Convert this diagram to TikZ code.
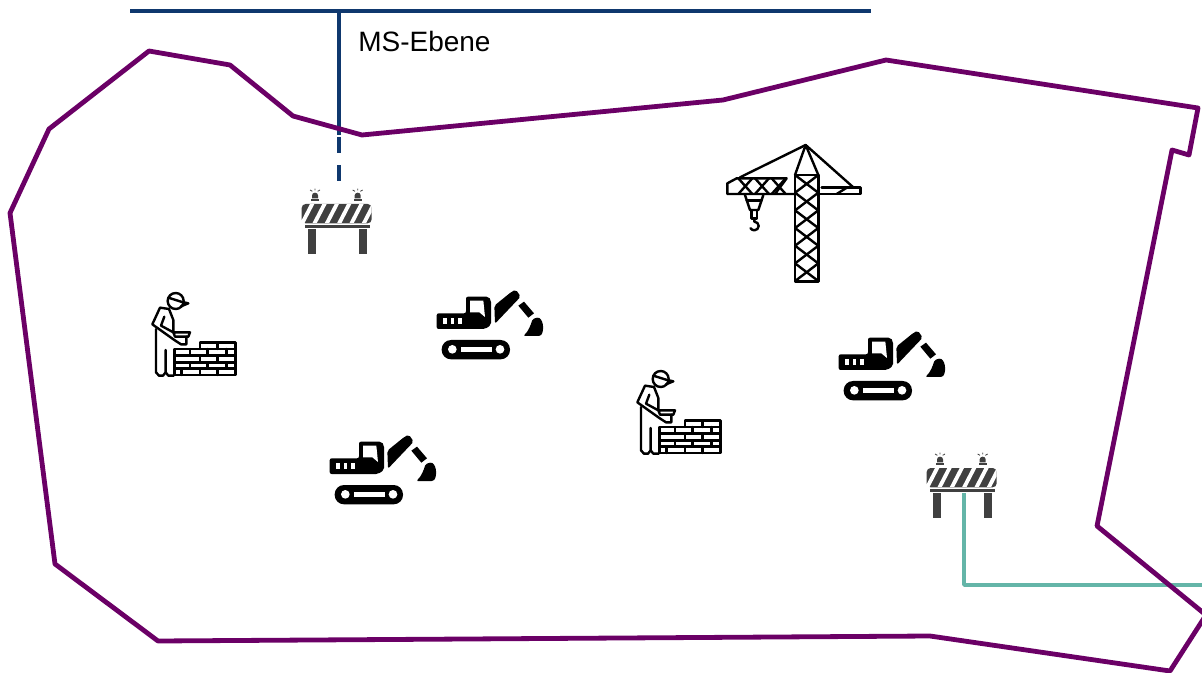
\documentclass[tikz,border=0pt]{standalone}
\usepackage{fontspec}
\setmainfont{Liberation Sans}
\definecolor{gebietlila}{RGB}{107,0,102}
\definecolor{msblau}{RGB}{15,56,110}
\definecolor{nsgruen}{RGB}{100,181,168}
\definecolor{baustellegrau}{RGB}{64,64,64}
\usetikzlibrary{positioning,calc}
\tikzset{
    gebiet/.style={draw=gebietlila, line width=3.6pt, line join=round},
    msleitung/.style={draw=msblau, line width=2.6pt},
    nsleitung/.style={draw=nsgruen, line width=2.6pt, line join=round},
    ikonlinie/.style={draw=black, line width=1.8pt, line join=round, line cap=round},
    pics/absperrung/.style={code={
        \fill[baustellegrau, rounded corners=3pt] (65,222) rectangle (275,280);
        \begin{scope}
            \clip (65,224) rectangle (275,278);
            \foreach \x in {60,97,...,280}
                \fill[white] (\x,280) -- (\x+13,280) -- (\x+43,222) -- (\x+30,222) -- cycle;
        \end{scope}
        \fill[baustellegrau] (75,286) rectangle (270,293);
        \fill[baustellegrau] (85,298) rectangle (107,372);
        \fill[baustellegrau] (238,298) rectangle (260,372);
        \foreach \x in {105,233} {
            \fill[baustellegrau] (\x-12,208) rectangle (\x+12,214);
            \fill[baustellegrau] (\x-9,205) -- (\x-9,196) arc (180:360:9 and 8) -- (\x+9,205) -- cycle;
            \draw[baustellegrau, line width=.6pt] (\x,176) -- (\x,181) (\x-15,180) -- (\x-8,184) (\x+15,180) -- (\x+8,184);
        }
    }},
    pics/bagger/.style={code={
        \fill[black, rounded corners=1.5pt] (20,85) -- (108,85) -- (108,35) -- (175,35) -- (183,45) -- (183,120) -- (165,132) -- (20,132) -- cycle;
        \fill[white] (120,47) -- (160,47) -- (165,96) -- (148,82) -- (120,82) -- cycle;
        \foreach \x in {40,62,84}
            \fill[white] (\x,100) rectangle (\x+11,118);
        \fill[black, rounded corners=1.5pt] (193,62) -- (245,20) -- (258,14) -- (272,35) -- (195,116) -- cycle;
        \fill[black] (265,62) -- (282,50) -- (312,85) -- (295,98) -- cycle;
        \fill[black, rounded corners=1pt] (280,153) .. controls (296,138) and (302,120) .. (308,102) -- (325,97) .. controls (342,108) and (342,142) .. (330,153) -- cycle;
        \fill[black, rounded corners=7pt] (35,165) rectangle (240,223);
        \fill[white] (92,186) rectangle (187,200);
        \fill[white] (67,193) circle (13);
        \fill[white] (210,193) circle (13);
    }},
    pics/maurer/.style={code={
        \draw[ikonlinie] (92,48) circle (24);
        \draw[ikonlinie] (70,38) -- (108,50) -- (130,55) -- (108,64);
        \draw[ikonlinie] (72,72) -- (45,68) -- (22,118) -- (88,165) -- (108,178) -- (124,178) -- (124,155);
        \draw[ikonlinie] (58,95) -- (48,122) -- (85,142);
        \draw[ikonlinie] (33,132) -- (33,262) -- (42,272) -- (54,272) -- (62,262) -- (62,195);
        \draw[ikonlinie] (62,262) -- (70,272) -- (86,272);
        \draw[ikonlinie] (85,142) -- (135,142) -- (130,155) -- (90,155) -- cycle;
        \draw[ikonlinie] (72,72) -- (85,105) -- (85,142);
        \draw[ikonlinie] (88,192) rectangle (272,270);
        \draw[ikonlinie] (165,192) -- (165,172) -- (272,172) -- (272,192);
        \foreach \y in {212,232,251}
            \draw[ikonlinie] (88,\y) -- (272,\y);
        \draw[ikonlinie] (218,172) -- (218,192);
        \foreach \x in {135,188,245} {
            \draw[ikonlinie] (\x,192) -- (\x,212);
            \draw[ikonlinie] (\x,232) -- (\x,251);
        }
        \foreach \x in {165,218} {
            \draw[ikonlinie] (\x,212) -- (\x,232);
            \draw[ikonlinie] (\x,251) -- (\x,270);
        }
        \draw[ikonlinie] (110,251) -- (110,270);
    }},
    pics/kran/.style={code={
        \draw[ikonlinie] (225,105) rectangle (295,425);
        \foreach \y in {105,158,...,372} {
            \draw[ikonlinie] (225,\y) -- (295,\y+53.3);
            \draw[ikonlinie] (295,\y) -- (225,\y+53.3);
        }
        \draw[ikonlinie] (225,105) -- (257,15) -- (295,105);
        \draw[ikonlinie] (257,15) -- (60,112);
        \draw[ikonlinie] (257,15) -- (400,142);
        \draw[ikonlinie] (225,162) -- (22,162) -- (22,130) -- (50,115) -- (200,115) -- (165,162);
        \foreach \x in {55,105,155} {
            \draw[ikonlinie] (\x,115) -- (\x+42,162);
            \draw[ikonlinie] (\x+42,115) -- (\x,162);
        }
        \draw[ikonlinie] (305,142) -- (422,142) -- (422,162) -- (295,162);
        \draw[ikonlinie] (382,142) -- (350,162);
        \draw[ikonlinie] (75,165) -- (90,210) -- (115,210) -- (130,165);
        \draw[ikonlinie] (80,182) -- (125,182);
        \draw[ikonlinie] (95,210) -- (95,235) -- (111,235) -- (111,210);
        \draw[ikonlinie] (103,235) -- (103,245) arc (-90:150:13 and 13);
    }}
}
\begin{document}
\begin{tikzpicture}[x=.75pt, y=-.75pt]
    \useasboundingbox (0,0) rectangle (1202,673);

    \coordinate (mslinks) at (130,11);
    \coordinate (msrechts) at (871,11);
    \coordinate (msabzweig) at (339,11);
    \coordinate (msgrenze) at (339,135);
    \coordinate (msstart) at (339,137);
    \coordinate (msende) at (339,181);
    \coordinate (nsstart) at (964,493);
    \coordinate (nsknick) at (964,585);
    \coordinate (nsrand) at (1202,585);

    \draw[msleitung] (mslinks) -- (msrechts);
    \draw[msleitung] (msabzweig) -- (msgrenze);
    \draw[msleitung, dash pattern=on 12pt off 9pt] (msstart) -- (msende);
    \draw[nsleitung] (nsstart) -- (nsknick) -- (nsrand);

    \node[anchor=west, inner sep=0pt, font=\fontsize{21}{25}\selectfont] (msebene) at (358,41) {MS-Ebene};

    \draw[gebiet] (1198,108) -- (886,60) -- (723,100) -- (362,135) -- (293,116) -- (230,65)
        -- (149,51) -- (49,129) -- (10,213) -- (55,564) -- (158,641) -- (930,636)
        -- (1170,671) -- (1206,615) -- (1097,526) -- (1172,150) -- (1189,155) -- cycle;

    \pic[scale=1/3] (absperrungnord) at (280,130) {absperrung};
    \pic[scale=1/3] (absperrungsued) at (905,394) {absperrung};
    \pic[scale=1/3] (kran) at (720,140) {kran};
    \pic[scale=1/3] (maurerwest) at (145,285) {maurer};
    \pic[scale=1/3] (maurermitte) at (630,363) {maurer};
    \pic[scale=1/3] (baggereins) at (430,285) {bagger};
    \pic[scale=1/3] (baggerzwei) at (832,326) {bagger};
    \pic[scale=1/3] (baggerdrei) at (323,430) {bagger};
\end{tikzpicture}
\end{document}
